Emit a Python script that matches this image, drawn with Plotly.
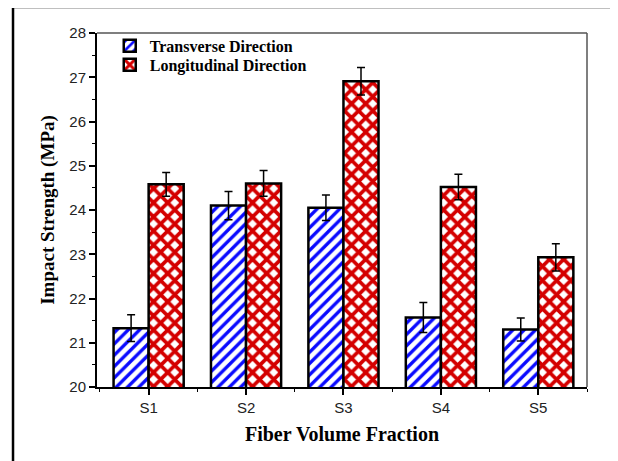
import plotly.graph_objects as go

categories = ["S1", "S2", "S3", "S4", "S5"]
transverse = [21.33, 24.10, 24.05, 21.57, 21.30]
transverse_err = [0.30, 0.32, 0.29, 0.34, 0.26]
longitudinal = [24.58, 24.60, 26.91, 24.52, 22.93]
longitudinal_err = [0.27, 0.29, 0.31, 0.29, 0.31]
xpos = list(range(len(categories)))

fig = go.Figure()
fig.add_trace(go.Bar(
    x=xpos, y=transverse, name="Transverse Direction", legend="legend",
    marker=dict(color="white", line=dict(color="black", width=2.5),
                pattern=dict(shape="/", fgcolor="#0a0aff", bgcolor="white", fgopacity=1,
                             size=8, solidity=0.42)),
    error_y=dict(type="data", array=transverse_err, color="black", thickness=1.5, width=4),
))
fig.add_trace(go.Bar(
    x=xpos, y=longitudinal, name="Longitudinal Direction", legend="legend2",
    marker=dict(color="white", line=dict(color="black", width=2.5),
                pattern=dict(shape="x", fgcolor="#d40000", bgcolor="white", fgopacity=1,
                             size=10, solidity=0.6)),
    error_y=dict(type="data", array=longitudinal_err, color="black", thickness=1.5, width=4),
))

# outer frame and gray top/right lines
fig.add_shape(type="rect", xref="paper", yref="paper", x0=-0.1714, x1=1.0571, y0=-0.25, y1=1.0734,
              line=dict(color="black", width=2.5), fillcolor="rgba(0,0,0,0)", layer="below")
fig.add_shape(type="line", xref="paper", yref="paper", x0=0, x1=1, y0=1, y1=1,
              line=dict(color="#555", width=1.5))
fig.add_shape(type="line", xref="paper", yref="paper", x0=1, x1=1, y0=0, y1=1,
              line=dict(color="#555", width=1.5))

legend_font = dict(family="Liberation Serif", size=16, color="black", weight="bold")
fig.update_layout(
    width=607, height=453,
    margin=dict(l=89, r=28, t=25, b=74, autoexpand=False),
    paper_bgcolor="white", plot_bgcolor="white",
    barmode="group", bargap=0.28, bargroupgap=0,
    showlegend=True,
    legend=dict(x=0.026, y=1.012, xanchor="left", yanchor="top",
                bgcolor="rgba(0,0,0,0)", font=legend_font),
    legend2=dict(x=0.026, y=0.958, xanchor="left", yanchor="top",
                 bgcolor="rgba(0,0,0,0)", font=legend_font),
    xaxis=dict(range=[-0.53, 4.5], tickvals=xpos, ticktext=categories, automargin=False,
               showline=True, linecolor="black", linewidth=1.5,
               ticks="outside", ticklen=6, tickwidth=1.5, tickcolor="black",
               minor=dict(dtick=0.5, tick0=0.5, ticks="outside", ticklen=3, tickwidth=1.2, tickcolor="black"),
               showgrid=False, zeroline=False,
               tickfont=dict(family="Liberation Sans", size=15, color="#222"),
               title=dict(text="Fiber Volume Fraction", standoff=12,
                          font=dict(family="Liberation Serif", size=20, color="black", weight="bold"))),
    yaxis=dict(range=[20, 28], dtick=1, automargin=False,
               showline=True, linecolor="black", linewidth=2,
               ticks="outside", ticklen=6, tickwidth=1.5, tickcolor="black",
               minor=dict(dtick=0.5, ticks="outside", ticklen=3, tickwidth=1.2, tickcolor="black"),
               showgrid=False, zeroline=False,
               tickfont=dict(family="Liberation Sans", size=15, color="#222"),
               title=dict(text="Impact Strength (MPa)", standoff=10,
                          font=dict(family="Liberation Serif", size=19, color="black", weight="bold"))),
)

fig.write_html("out.html")
